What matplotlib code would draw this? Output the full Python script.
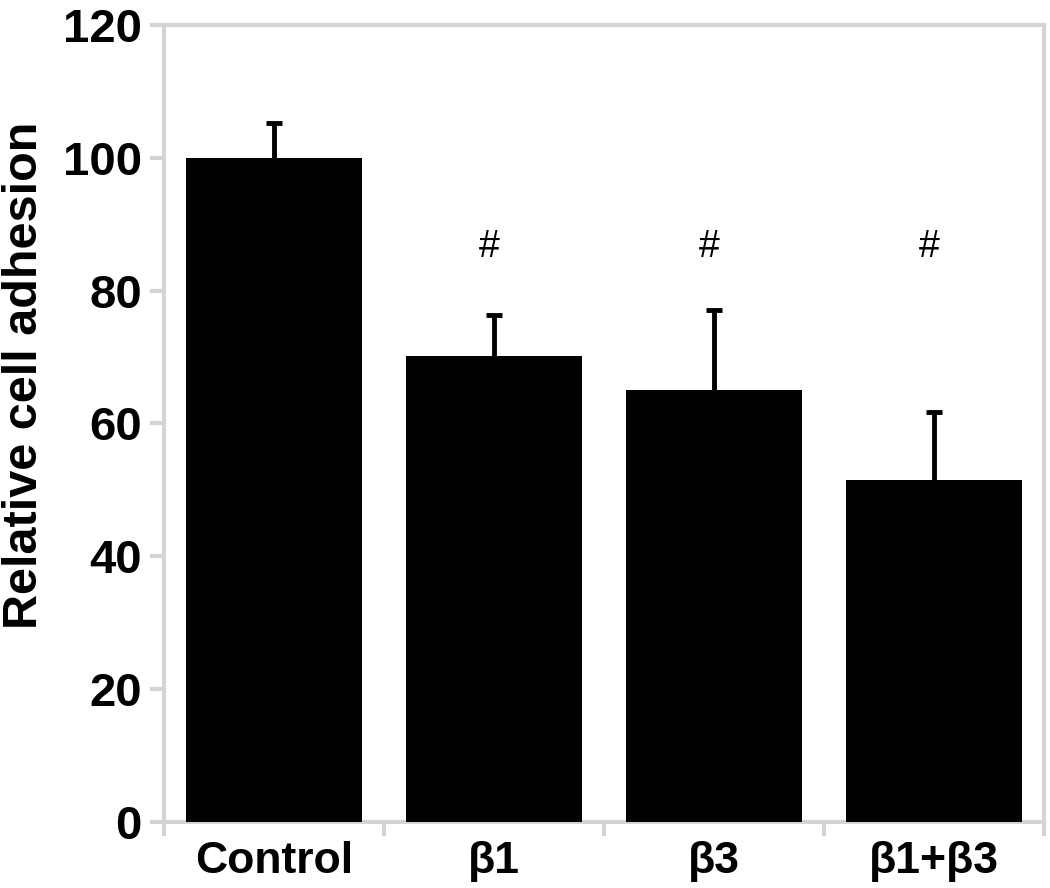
import matplotlib
matplotlib.use("Agg")
import matplotlib.pyplot as plt
import numpy as np

categories = ["Control", "β1", "β3", "β1+β3"]
values = [100.0, 70.2, 65.1, 51.5]
errors = [5.2, 6.2, 12.0, 10.2]
marks = ["", "#", "#", "#"]
mark_y = 86.6
yticks = [0, 20, 40, 60, 80, 100, 120]

plt.rcParams['font.family'] = ['Liberation Sans', 'DejaVu Sans']

W, H = 1050, 888
fig = plt.figure(figsize=(W/100, H/100), dpi=100)
ax = fig.add_axes([164/W, 1-822/H, (1044-164)/W, (822-25)/H])

x = np.arange(len(categories))
ax.bar(x, values, width=0.8, color='black', zorder=3)
eb = ax.errorbar(x, values, yerr=[np.zeros(len(values)), errors], fmt='none',
                 ecolor='black', elinewidth=3.5, capsize=6, capthick=3.5, zorder=2)
eb[1][0].set_visible(False)
for xi, m in zip(x, marks):
    if m:
        ax.text(xi - 0.02, mark_y, m, ha='center', va='center', fontsize=27, color='black')

ax.set_xlim(-0.5, len(categories)-0.5)
ax.set_ylim(0, 120)
ax.set_yticks(yticks)
ax.set_yticklabels([str(t) for t in yticks], fontsize=34, fontweight='bold')
ax.set_xticks(x)
ax.set_xticklabels(categories, fontsize=32, fontweight='bold')
ax.set_xticks(np.arange(len(categories)+1)-0.5, minor=True)

grey = '#d4d4d4'
for s in ax.spines.values():
    s.set_color(grey)
    s.set_linewidth(3)
ax.tick_params(axis='x', which='major', length=0, pad=14)
ax.tick_params(axis='x', which='minor', length=10, width=3, color=grey, direction='out')
ax.tick_params(axis='y', which='major', length=10, width=3, color=grey, direction='out', pad=6)

ax.set_ylabel("Relative cell adhesion", fontsize=35, fontweight='bold', va='center')
ax.yaxis.set_label_coords(-0.158, 0.561)

fig.savefig("out.png", dpi=100)
